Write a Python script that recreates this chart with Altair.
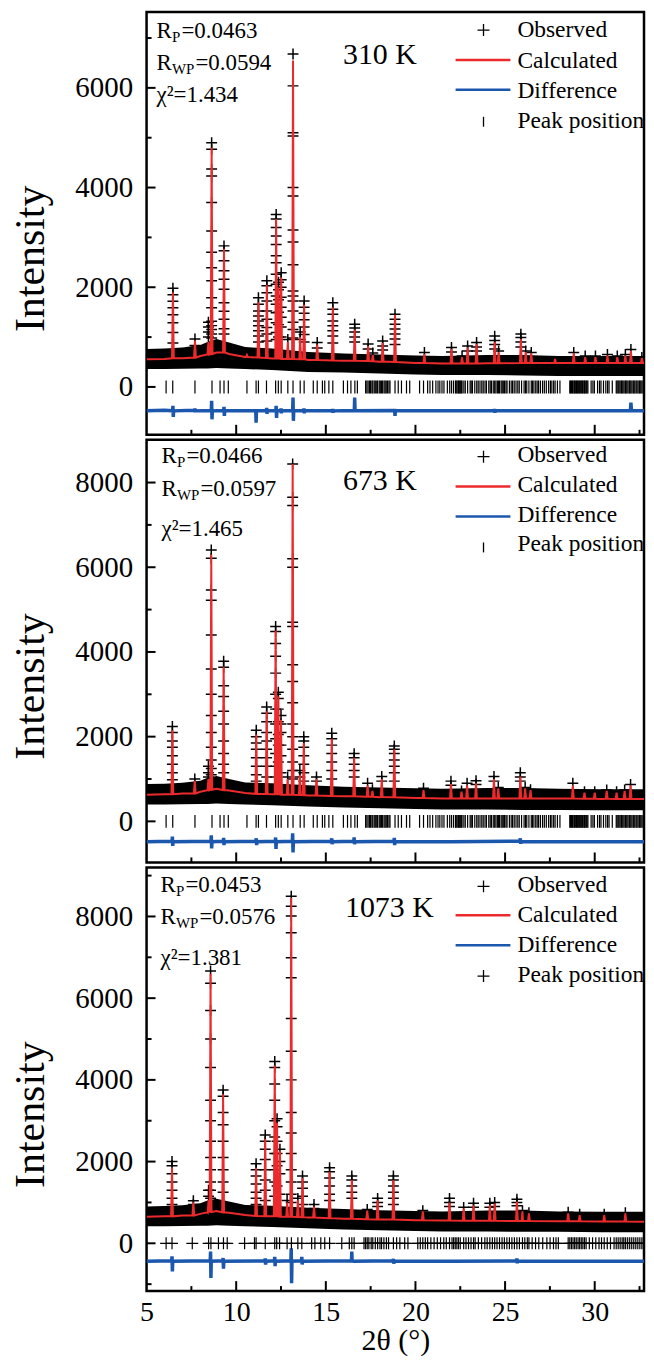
import altair as alt
import pandas as pd

SERIF = "Liberation Serif"
RED = "#EC2A2C"
BLUE = "#1C57AE"
PLUS = "M-1,0H1M0,-1V1"

X_DOMAIN = [5, 32.75]
X_LABELS = [5, 10, 15, 20, 25, 30]
X_MAJOR = [10, 15, 20, 25, 30]
X_MINOR = [7.5, 12.5, 17.5, 22.5, 27.5, 32.5]

PANEL_W = 499
PANEL_H = [424, 424, 425]
Y_DOMAINS = [[-960, 7520], [-970, 9010], [-1170, 9200]]
Y_MAJOR = [[0, 2000, 4000, 6000], [0, 2000, 4000, 6000, 8000], [0, 2000, 4000, 6000, 8000]]
Y_MINOR = [[1000, 3000, 5000, 7000], [1000, 3000, 5000, 7000],
           [-1000, 1000, 3000, 5000, 7000, 9000]]

temps = ["310 K", "673 K", "1073 K"]
r_p = ["0.0463", "0.0466", "0.0453"]
r_wp = ["0.0594", "0.0597", "0.0576"]
chi2 = ["1.434", "1.465", "1.381"]
legend_labels = ["Observed", "Calculated", "Difference", "Peak position"]

# background anchors: (2theta, calculated background, observed band low, observed band high)
bg_310 = [(5.0, 555, 360, 760), (6.0, 560, 360, 770), (7.0, 575, 365, 790), (8.0, 620, 370, 840),
          (8.4, 655, 370, 900), (8.9, 690, 380, 960), (9.6, 660, 370, 890), (10.5, 600, 360, 800),
          (12.0, 570, 340, 770), (14.0, 540, 300, 700), (16.0, 525, 290, 670), (18.0, 505, 270, 650),
          (20.0, 480, 250, 630), (21.5, 470, 240, 620), (24.0, 475, 240, 640), (26.0, 480, 230, 640),
          (28.0, 480, 220, 620), (30.4, 480, 220, 620), (32.75, 480, 220, 620)]
bg_673 = [(5.0, 630, 400, 880), (6.0, 640, 400, 890), (7.0, 660, 405, 910), (8.0, 700, 410, 960),
          (8.4, 740, 410, 1030), (8.9, 770, 420, 1070), (9.6, 730, 410, 1000), (10.5, 670, 400, 920),
          (12.0, 640, 380, 900), (14.0, 610, 350, 850), (16.0, 590, 330, 820), (18.0, 570, 310, 800),
          (20.0, 550, 290, 780), (21.5, 540, 280, 770), (24.0, 540, 280, 790), (26.0, 540, 270, 790),
          (28.0, 540, 270, 770), (30.4, 530, 260, 760), (32.75, 530, 260, 760)]
bg_1073 = [(5.0, 650, 420, 900), (6.0, 660, 420, 910), (7.0, 680, 425, 930), (8.0, 720, 430, 980),
           (8.4, 760, 430, 1050), (8.9, 790, 440, 1090), (9.6, 750, 430, 1020), (10.5, 690, 420, 940),
           (12.0, 660, 400, 920), (14.0, 630, 370, 870), (16.0, 600, 340, 840), (18.0, 580, 320, 810),
           (20.0, 565, 300, 790), (21.5, 555, 290, 780), (24.0, 550, 290, 800), (26.0, 545, 280, 800),
           (28.0, 540, 280, 780), (30.4, 535, 270, 770), (32.75, 530, 270, 770)]

# peaks: (2theta, calculated top, calculated base, observed intensities on the peak)
pk_310 = [
    (6.47, 1900, 575, [1980, 1850, 1720, 1590, 1450, 1290, 1090, 880]),
    (7.70, 930, 590, [960, 830]),
    (8.45, 900, 650, [1300, 1200, 1100, 1000]),
    (8.63, 4800, 660, [4900, 4770, 4370, 4230, 3700, 3130, 2700, 2390, 2130, 1790, 1590, 1320, 1230, 1150, 1060, 980]),
    (9.32, 2770, 690, [2830, 2730, 2530, 2330, 2160, 1960, 1690, 1520, 1360, 1165, 1060]),
    (10.60, 640, 600, []),
    (11.24, 1700, 590, [1790, 1660, 1525, 1425, 1325, 1225, 1125, 1020, 900]),
    (11.71, 2050, 580, [2130, 2030, 1890, 1725, 1525, 1360, 1190, 1060, 920]),
    (12.23, 3370, 570, [3460, 3370, 3200, 3030, 2860, 2630, 2490, 2260, 2060, 1825, 1660, 1490, 1290, 1090, 950]),
    (12.36, 2000, 570, [2100, 1950, 1750, 1500, 1250, 1000]),
    (12.51, 2200, 565, [2290, 2150, 2000, 1800, 1600, 1400, 1200, 1000]),
    (12.88, 900, 560, [950]),
    (13.17, 6550, 560, [6680, 6040, 5100, 5035, 4000, 3830, 3150, 2910, 2450, 1925, 1825, 1725, 1525, 1300, 1150, 980]),
    (13.57, 1000, 555, [1100, 950]),
    (13.79, 1650, 555, [1725, 1600, 1480, 1350, 1200, 1050, 900]),
    (14.52, 850, 540, [890, 780]),
    (15.39, 1600, 530, [1690, 1560, 1460, 1325, 1225, 1125, 1020, 880]),
    (16.61, 1150, 525, [1260, 1180, 1100, 1000, 900]),
    (17.36, 820, 520, [860, 760]),
    (17.62, 640, 515, [680]),
    (18.17, 880, 510, [920, 820, 740]),
    (18.86, 1450, 500, [1460, 1360, 1260, 1160, 1060, 960, 850]),
    (20.50, 660, 480, [690]),
    (22.01, 760, 470, [790, 700]),
    (22.60, 600, 470, [620]),
    (22.91, 790, 470, [820, 720]),
    (23.41, 860, 470, [890, 800, 720]),
    (24.42, 900, 475, [1020, 930, 850, 760]),
    (24.64, 700, 475, [720]),
    (25.88, 960, 480, [1060, 990, 900, 800]),
    (26.15, 700, 480, [720]),
    (26.46, 680, 480, [690]),
    (27.79, 560, 480, []),
    (28.83, 680, 480, [690]),
    (29.47, 600, 480, [620]),
    (30.04, 600, 480, [620]),
    (30.71, 630, 480, [650]),
    (31.26, 600, 480, [620]),
    (31.71, 630, 480, [650]),
    (32.02, 720, 480, [750]),
    (32.63, 580, 480, [590]),
]
pk_673 = [
    (6.44, 2150, 640, [2240, 2100, 1900, 1750, 1550, 1350, 1150, 980]),
    (7.69, 960, 660, [1000, 900]),
    (8.45, 1000, 735, [1300, 1150, 1050]),
    (8.61, 6300, 745, [6410, 6210, 5460, 5220, 4400, 3600, 3000, 2500, 2100, 1750, 1450, 1250, 1100, 950]),
    (9.30, 3650, 740, [3780, 3640, 3200, 2950, 2600, 2300, 1900, 1600, 1350, 1150]),
    (11.12, 2050, 650, [2150, 2000, 1850, 1700, 1500, 1300, 1100, 950]),
    (11.70, 2600, 645, [2700, 2550, 2350, 2100, 1900, 1700, 1500, 1300, 1050]),
    (12.20, 4500, 640, [4600, 4480, 4200, 3900, 3500, 3000, 2650, 2300, 1950, 1600, 1300, 1050]),
    (12.35, 2950, 640, [3050, 2900, 2650, 2350, 2050, 1800, 1400]),
    (12.50, 2400, 635, [2500, 2300, 2100, 1800, 1550, 1150]),
    (12.87, 1000, 630, [1050]),
    (13.15, 8440, 630, [8440, 7650, 7460, 6200, 6000, 4700, 4600, 3700, 3300, 2800, 2300, 2000, 1700, 1400, 1200, 1000]),
    (13.55, 1100, 625, [1200, 1050]),
    (13.77, 1850, 620, [2000, 1900, 1750, 1550, 1350, 1150, 950]),
    (14.48, 1000, 610, [1050, 950]),
    (15.33, 1950, 600, [2080, 1950, 1800, 1600, 1400, 1200, 1000]),
    (16.58, 1500, 590, [1600, 1500, 1350, 1200, 1050]),
    (17.33, 850, 580, [900]),
    (17.60, 720, 580, [750]),
    (18.12, 1000, 575, [1060, 950]),
    (18.82, 1700, 570, [1780, 1700, 1600, 1450, 1300, 1150, 950]),
    (20.45, 740, 550, [780]),
    (21.98, 880, 540, [950, 850]),
    (22.57, 700, 540, [720]),
    (22.88, 850, 540, [900]),
    (23.38, 900, 540, [960, 870]),
    (24.38, 1000, 540, [1060, 950]),
    (24.62, 780, 540, [800]),
    (25.85, 1060, 540, [1150, 1050, 950]),
    (26.12, 780, 540, [800]),
    (26.42, 740, 540, [750]),
    (28.78, 850, 540, [900]),
    (29.43, 680, 535, [700]),
    (30.00, 680, 535, [700]),
    (30.67, 720, 535, [740]),
    (31.22, 680, 530, [700]),
    (31.67, 720, 530, [740]),
    (32.00, 850, 530, [870]),
]
pk_1073 = [
    (6.42, 1850, 660, [2000, 1900, 1700, 1500, 1300, 1100, 950]),
    (7.61, 1000, 680, [1040, 950]),
    (8.46, 1050, 755, [1300, 1150]),
    (8.57, 6600, 765, [6665, 6365, 5700, 5000, 4300, 3500, 3000, 2500, 2100, 1800, 1500, 1300, 1100]),
    (9.27, 3650, 760, [3750, 3600, 3200, 2900, 2500, 2100, 1800, 1500, 1250]),
    (11.11, 1850, 670, [1950, 1800, 1650, 1450, 1250, 1100, 950]),
    (11.62, 2550, 665, [2650, 2500, 2300, 2050, 1800, 1550, 1300, 1050]),
    (12.15, 4350, 660, [4450, 4300, 3900, 3500, 3000, 2600, 2200, 1800, 1500, 1150]),
    (12.28, 2950, 660, [3050, 2850, 2500, 2200, 1900, 1400]),
    (12.44, 2250, 655, [2300, 2000, 1700, 1200]),
    (12.84, 1000, 650, [1050]),
    (13.07, 8450, 650, [8495, 8250, 8010, 7600, 6990, 6500, 5500, 4700, 4000, 3200, 2700, 2200, 1800, 1500, 1200, 1000]),
    (13.44, 1050, 645, [1100]),
    (13.70, 1600, 640, [1650, 1500, 1350, 1150, 950]),
    (14.34, 900, 630, [950, 850]),
    (15.21, 1750, 615, [1850, 1750, 1600, 1400, 1200, 1050]),
    (16.45, 1550, 600, [1650, 1550, 1400, 1250, 1100]),
    (17.31, 800, 590, [830]),
    (17.89, 1050, 585, [1100, 1000, 900]),
    (18.77, 1550, 580, [1650, 1550, 1400, 1250, 1100, 950]),
    (20.41, 780, 565, [800]),
    (21.90, 1000, 555, [1100, 1000, 900]),
    (22.69, 850, 553, [880]),
    (23.24, 930, 552, [980, 880]),
    (24.15, 930, 550, [980, 880]),
    (24.42, 970, 550, [1000, 900]),
    (25.66, 1020, 547, [1080, 1000, 920]),
    (25.97, 780, 545, [800]),
    (26.33, 730, 545, [750]),
    (28.52, 730, 540, [760]),
    (29.16, 690, 538, [710]),
    (30.53, 690, 535, [710]),
    (31.71, 730, 532, [750]),
]

# difference curves: (2theta, difference)
diff_310 = [(5.0, -480), (6.0, -470), (6.45, -480), (6.47, -380), (6.49, -600), (6.51, -480),
            (7.69, -470), (7.70, -430), (7.71, -510), (7.72, -480), (8.61, -475), (8.63, -280),
            (8.65, -650), (8.67, -480), (9.30, -475), (9.32, -400), (9.34, -580), (9.36, -480),
            (10.5, -480), (11.09, -480), (11.11, -720), (11.13, -480), (11.69, -480), (11.70, -420),
            (11.72, -540), (11.73, -480), (12.21, -475), (12.23, -380), (12.25, -620), (12.27, -480),
            (12.49, -480), (12.50, -430), (12.52, -530), (12.53, -480), (13.15, -480), (13.17, -215),
            (13.19, -680), (13.21, -480), (13.77, -480), (13.78, -430), (13.80, -530), (13.81, -480),
            (15.37, -480), (15.38, -440), (15.40, -520), (15.41, -480), (16.59, -475), (16.61, -215),
            (16.63, -480), (18.84, -475), (18.86, -580), (18.88, -480), (20.0, -480), (22.89, -480),
            (22.90, -450), (22.92, -510), (22.93, -480), (24.40, -480), (24.41, -440), (24.43, -520),
            (24.44, -480), (25.86, -480), (25.87, -450), (25.89, -510), (25.90, -480), (28.0, -480),
            (31.99, -480), (32.02, -315), (32.05, -480), (32.75, -480)]
diff_673 = [(5.0, -480), (6.42, -470), (6.44, -360), (6.46, -580), (6.48, -480), (8.59, -470),
            (8.61, -330), (8.63, -640), (8.65, -480), (9.28, -470), (9.30, -390), (9.32, -560),
            (9.34, -480), (11.10, -470), (11.12, -400), (11.14, -560), (11.16, -480), (12.18, -470),
            (12.20, -380), (12.22, -650), (12.24, -480), (13.13, -470), (13.15, -280), (13.17, -735),
            (13.19, -480), (15.31, -470), (15.33, -400), (15.35, -540), (15.37, -480), (16.56, -470),
            (16.58, -380), (16.60, -540), (16.62, -480), (18.80, -470), (18.82, -390), (18.84, -560),
            (18.86, -480), (22.0, -480), (25.83, -470), (25.85, -400), (25.87, -530), (25.89, -480),
            (28.0, -480), (32.75, -480)]
diff_1073 = [(5.0, -440), (6.40, -430), (6.42, -320), (6.44, -690), (6.46, -440), (8.55, -430),
             (8.57, -200), (8.59, -850), (8.61, -440), (9.25, -430), (9.27, -360), (9.29, -620),
             (9.31, -440), (11.60, -430), (11.62, -370), (11.64, -520), (11.66, -440), (12.13, -430),
             (12.15, -330), (12.17, -560), (12.19, -440), (13.05, -430), (13.07, -120), (13.09, -975),
             (13.11, -440), (13.64, -430), (13.66, -330), (13.68, -520), (13.70, -440), (16.43, -430),
             (16.45, -200), (16.47, -470), (16.49, -440), (18.75, -430), (18.77, -380), (18.79, -500),
             (18.81, -440), (22.0, -440), (25.64, -430), (25.66, -370), (25.68, -490), (25.70, -440),
             (28.0, -440), (32.75, -440)]

# reflection (peak) positions
refl_310 = [6.09, 6.46, 7.70, 8.65, 9.10, 9.32, 9.56, 10.60, 11.11, 11.24, 11.69, 12.20, 12.35, 12.51,
            12.88, 13.17, 13.57, 13.79, 14.30, 14.52, 14.81, 14.94, 15.17, 15.39, 15.98, 16.21, 16.40,
            16.62, 16.76, 17.22, 17.29, 17.36, 17.44, 17.49, 17.57, 17.62, 17.70, 17.76, 17.84, 17.89,
            17.98, 18.04, 18.11, 18.17, 18.25, 18.31, 18.37, 18.44, 18.52, 18.58, 18.86, 19.04, 19.22,
            19.50, 19.68, 20.23, 20.45, 20.68, 20.81, 20.96, 21.14, 21.26, 21.36, 21.48, 21.59, 21.78,
            21.91, 22.01, 22.12, 22.23, 22.27, 22.32, 22.38, 22.41, 22.47, 22.50, 22.56, 22.60, 22.70,
            22.78, 22.91, 23.05, 23.11, 23.18, 23.31, 23.42, 23.50, 23.60, 23.70, 23.78, 23.88, 23.96,
            24.09, 24.17, 24.24, 24.34, 24.42, 24.49, 24.57, 24.64, 24.69, 24.78, 24.84, 24.90, 24.97,
            25.05, 25.11, 25.24, 25.34, 25.42, 25.51, 25.61, 25.71, 25.79, 25.92, 26.06, 26.14, 26.21,
            26.33, 26.46, 26.53, 26.61, 26.71, 26.79, 26.87, 26.97, 27.09, 27.19, 27.30, 27.43, 27.53,
            27.61, 27.71, 27.79, 27.92, 28.06, 28.61, 28.65, 28.70, 28.76, 28.79, 28.85, 28.88, 28.94,
            28.98, 29.03, 29.07, 29.11, 29.16, 29.22, 29.25, 29.31, 29.34, 29.40, 29.43, 29.47, 29.53,
            29.57, 29.62, 29.80, 29.90, 29.98, 30.16, 30.27, 30.35, 30.49, 30.62, 30.72, 30.80, 30.98,
            31.20, 31.25, 31.31, 31.36, 31.42, 31.49, 31.53, 31.58, 31.64, 31.71, 31.75, 31.80, 31.86,
            31.93, 31.97, 32.02, 32.08, 32.15, 32.19, 32.24, 32.31, 32.36, 32.42, 32.49, 32.53, 32.58,
            32.64, 32.71]
refl_673 = refl_310
refl_1073 = [6.09, 6.42, 7.55, 8.46, 8.59, 9.01, 9.29, 9.50, 10.47, 11.02, 11.11, 11.62, 12.15, 12.26,
             12.42, 12.84, 13.08, 13.44, 13.66, 14.21, 14.39, 14.72, 14.94, 15.21, 15.89, 16.31, 16.45,
             16.58, 17.13, 17.22, 17.31, 17.40, 17.53, 17.62, 17.76, 17.89, 18.02, 18.11, 18.24, 18.38,
             18.50, 18.77, 18.95, 19.13, 19.40, 19.58, 20.13, 20.27, 20.41, 20.55, 20.68, 20.86, 21.04,
             21.22, 21.40, 21.58, 21.72, 21.90, 22.04, 22.13, 22.22, 22.31, 22.40, 22.50, 22.69, 22.82,
             22.96, 23.10, 23.24, 23.33, 23.51, 23.69, 23.87, 24.00, 24.15, 24.29, 24.42, 24.55, 24.69,
             24.83, 24.96, 25.10, 25.24, 25.38, 25.52, 25.66, 25.80, 25.97, 26.10, 26.24, 26.33, 26.51,
             26.70, 26.88, 27.10, 27.33, 27.51, 27.70, 27.84, 27.97, 28.52, 28.61, 28.70, 28.79, 28.88,
             28.97, 29.07, 29.16, 29.25, 29.34, 29.43, 29.52, 29.70, 29.88, 30.06, 30.24, 30.38, 30.53,
             30.70, 30.88, 31.08, 31.20, 31.31, 31.42, 31.53, 31.62, 31.71, 31.82, 31.93, 32.04, 32.15,
             32.26, 32.37, 32.48, 32.59, 32.70]

BGS = [bg_310, bg_673, bg_1073]
PEAKS = [pk_310, pk_673, pk_1073]
DIFFS = [diff_310, diff_673, diff_1073]
REFLS = [refl_310, refl_673, refl_1073]

# layout of the in-panel annotations (pixels inside each panel)
STAT_X = [10, 15, 14]
STAT_ROWS = [[26, 58, 90], [23, 56, 97], [25, 57, 98]]
TEMP_POS = [(197, 52), (197, 50), (199, 50)]
LEG_SYM_X = 338
LEG_LINE_X = (310, 365)
LEG_TEXT_X = 372
LEG_TEXT_Y = [[25, 56, 86, 116], [22, 52, 82, 112], [25, 55, 85, 115]]
LEG_SYM_Y = [[18, 48, 78, 110], [17, 47, 77, 108], [19, 48, 78, 109]]

one = pd.DataFrame({"k": [0]})
DELTA = 0.05


def txt(s, x, y, size, align="left", baseline="alphabetic"):
    return alt.Chart(one).mark_text(
        text=s, font=SERIF, fontSize=size, align=align, baseline=baseline, color="black"
    ).encode(x=alt.value(x), y=alt.value(y))


def panel(i):
    H = PANEL_H[i]
    xs = alt.Scale(domain=X_DOMAIN, nice=False, zero=False)
    ys = alt.Scale(domain=Y_DOMAINS[i], nice=False, zero=False)

    if i == 2:
        xaxis = alt.Axis(values=X_LABELS, ticks=False, domain=False, grid=False, labelFlush=False,
                         labelFont=SERIF, labelFontSize=28, labelColor="black", labelPadding=7,
                         title="2θ (°)", titleFont=SERIF, titleFontSize=30, titleFontWeight="normal",
                         titleColor="black", titleY=50, titleBaseline="middle")
    else:
        xaxis = None
    yaxis = alt.Axis(values=Y_MAJOR[i], format="d", ticks=False, domain=False, grid=False,
                     labelFont=SERIF, labelFontSize=29, labelColor="black", labelPadding=14,
                     title="Intensity", titleFont=SERIF, titleFontSize=42, titleFontWeight="normal",
                     titleColor="black", titleAngle=270, titleX=-116, titleY=H / 2 + 35,
                     titleAlign="center", titleBaseline="middle")

    def X(field):
        return alt.X(field, type="quantitative", scale=xs, axis=xaxis)

    def Y(field):
        return alt.Y(field, type="quantitative", scale=ys, axis=yaxis)

    bg_df = pd.DataFrame(BGS[i], columns=["x", "calc", "lo", "hi"])
    band = alt.Chart(bg_df).mark_area(color="black", opacity=1, clip=True).encode(
        x=X("x"), y=Y("lo"), y2="hi")

    obs_rows = [(p[0], v) for p in PEAKS[i] for v in p[3]]
    obs_df = pd.DataFrame(obs_rows, columns=["x", "y"])
    obs = alt.Chart(obs_df).mark_point(shape=PLUS, size=120, filled=False, strokeWidth=1.5,
                                       color="black", opacity=1, clip=True).encode(x=X("x"), y=Y("y"))

    verts = [(b[0], b[1]) for b in BGS[i]]
    for p in PEAKS[i]:
        verts += [(p[0] - DELTA, p[2]), (p[0], p[1]), (p[0] + DELTA, p[2])]
    verts.sort()
    calc_df = pd.DataFrame(verts, columns=["x", "y"])
    calc = alt.Chart(calc_df).mark_line(color=RED, strokeWidth=2, clip=True).encode(x=X("x"), y=Y("y"))

    diff_df = pd.DataFrame(DIFFS[i], columns=["x", "y"])
    diff = alt.Chart(diff_df).mark_line(color=BLUE, strokeWidth=3.5, clip=True).encode(x=X("x"), y=Y("y"))

    refl_df = pd.DataFrame({"x": REFLS[i], "y": [0] * len(REFLS[i])})
    if i == 2:
        refl = alt.Chart(refl_df).mark_point(shape=PLUS, size=144, filled=False, strokeWidth=1.2,
                                             color="black", opacity=1, clip=True)
    else:
        refl = alt.Chart(refl_df).mark_tick(orient="vertical", size=13, thickness=1.2,
                                            color="black", opacity=1, clip=True)
    refl = refl.encode(x=X("x"), y=Y("y"))

    ymaj = alt.Chart(pd.DataFrame({"v": Y_MAJOR[i]})).mark_rule(color="black", strokeWidth=2).encode(
        y=Y("v"), x=alt.value(0), x2=alt.value(9))
    ymin = alt.Chart(pd.DataFrame({"v": Y_MINOR[i]})).mark_rule(color="black", strokeWidth=2).encode(
        y=Y("v"), x=alt.value(0), x2=alt.value(5))
    xmaj = alt.Chart(pd.DataFrame({"v": X_MAJOR})).mark_rule(color="black", strokeWidth=2).encode(
        x=X("v"), y=alt.value(H), y2=alt.value(H - 10))
    xmin = alt.Chart(pd.DataFrame({"v": X_MINOR})).mark_rule(color="black", strokeWidth=2).encode(
        x=X("v"), y=alt.value(H), y2=alt.value(H - 5))

    sx = STAT_X[i]
    r1, r2, r3 = STAT_ROWS[i]
    texts = [
        txt("R", sx, r1, 23), txt("P", sx + 15.5, r1 + 4, 15), txt("=" + r_p[i], sx + 25, r1, 23),
        txt("R", sx, r2, 23), txt("WP", sx + 15.5, r2 + 4, 15), txt("=" + r_wp[i], sx + 39, r2, 23),
        txt("χ²=" + chi2[i], sx, r3, 23),
        txt(temps[i], TEMP_POS[i][0], TEMP_POS[i][1], 30),
    ]
    for lab, ty in zip(legend_labels, LEG_TEXT_Y[i]):
        texts.append(txt(lab, LEG_TEXT_X, ty, 23.5))
    sy = LEG_SYM_Y[i]
    sym_obs = alt.Chart(one).mark_point(shape=PLUS, size=144, filled=False, strokeWidth=1.3,
                                        color="black", opacity=1).encode(
        x=alt.value(LEG_SYM_X), y=alt.value(sy[0]))
    sym_calc = alt.Chart(one).mark_rule(color=RED, strokeWidth=2.5).encode(
        x=alt.value(LEG_LINE_X[0]), x2=alt.value(LEG_LINE_X[1]), y=alt.value(sy[1]))
    sym_diff = alt.Chart(one).mark_rule(color=BLUE, strokeWidth=2.5).encode(
        x=alt.value(LEG_LINE_X[0]), x2=alt.value(LEG_LINE_X[1]), y=alt.value(sy[2]))
    if i == 2:
        sym_refl = alt.Chart(one).mark_point(shape=PLUS, size=144, filled=False, strokeWidth=1.3,
                                             color="black", opacity=1).encode(
            x=alt.value(LEG_SYM_X), y=alt.value(sy[3]))
    else:
        sym_refl = alt.Chart(one).mark_rule(color="black", strokeWidth=1.3).encode(
            x=alt.value(LEG_SYM_X), y=alt.value(sy[3] - 5), y2=alt.value(sy[3] + 5))

    return alt.layer(band, obs, calc, diff, refl, ymaj, ymin, xmaj, xmin,
                     sym_obs, sym_calc, sym_diff, sym_refl, *texts).properties(width=PANEL_W, height=H)


chart = alt.vconcat(panel(0), panel(1), panel(2), spacing=5, bounds="flush").properties(
    padding={"left": 0, "top": 0, "right": 0, "bottom": 0}
).configure(font=SERIF).configure_view(stroke="black", strokeWidth=2.5)

chart.save("out.html", embed_options={"renderer": "svg", "actions": False})
